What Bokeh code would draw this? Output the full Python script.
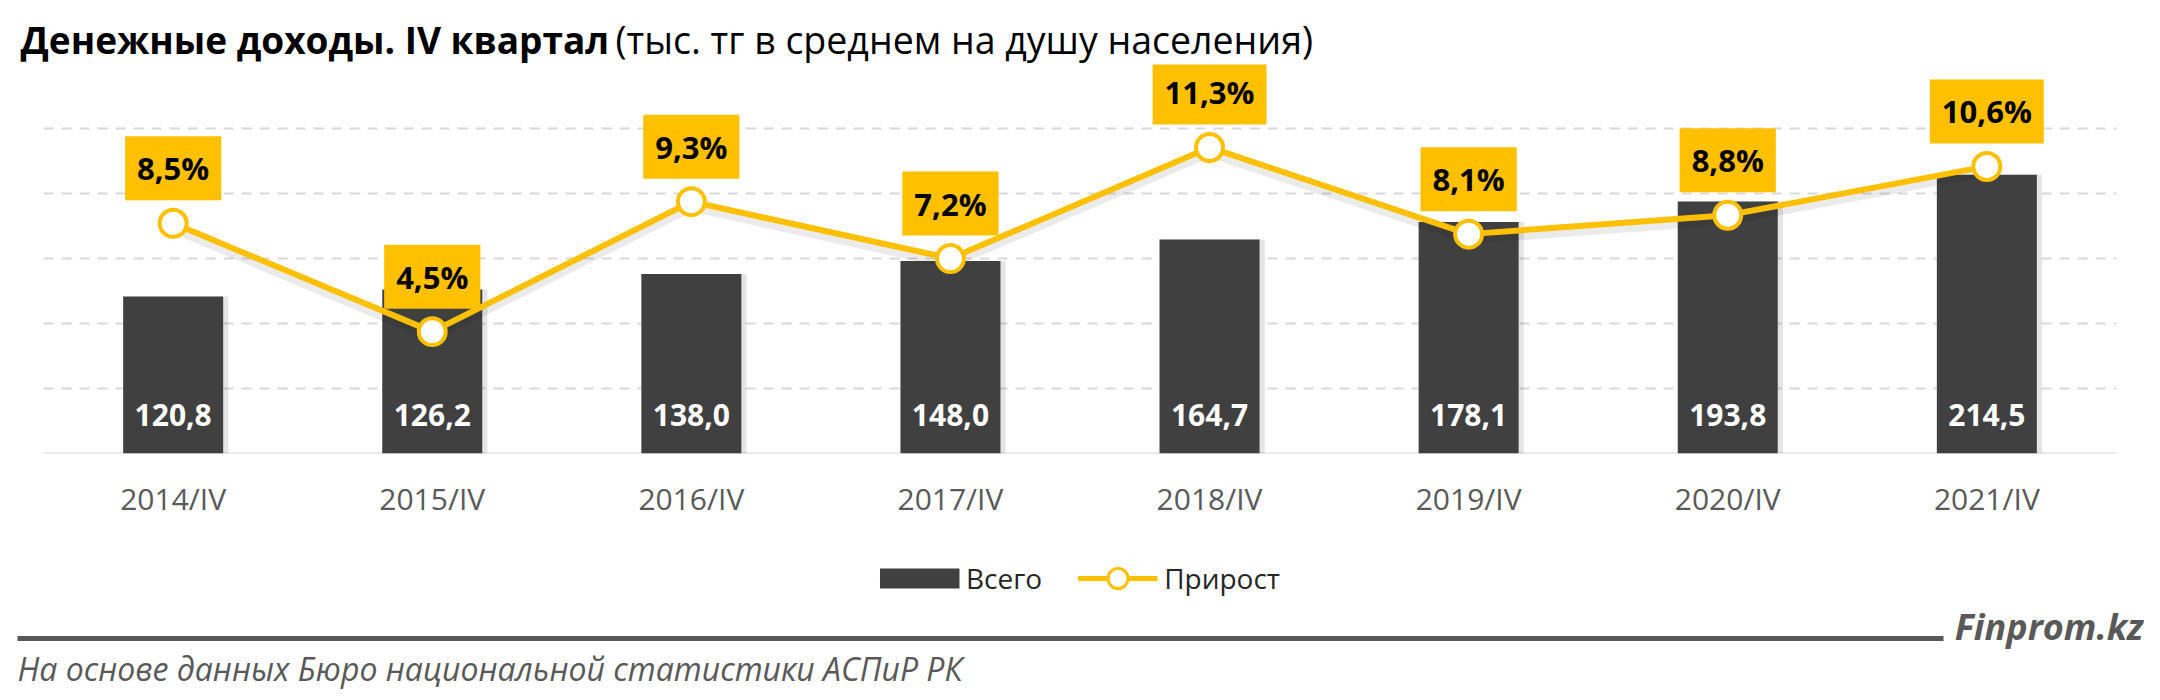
from bokeh.plotting import figure
from bokeh.layouts import column
from bokeh.models import (Range1d, FactorRange, Legend, LegendItem,
                          ColumnDataSource)
from bokeh.transform import dodge
from bokeh.core.properties import value
from bokeh.embed import file_html
from bokeh.resources import INLINE

# ---------------- data ----------------
categories = ["2014/IV", "2015/IV", "2016/IV", "2017/IV",
              "2018/IV", "2019/IV", "2020/IV", "2021/IV"]
totals = [120.8, 126.2, 138.0, 148.0, 164.7, 178.1, 193.8, 214.5]
growth = [8.5, 4.5, 9.3, 7.2, 11.3, 8.1, 8.8, 10.6]
y_grid_ticks = [50, 100, 150, 200, 250]

TITLE_BOLD = "Денежные доходы. IV квартал"
TITLE_NORMAL = "(тыс. тг в среднем на душу населения)"
LEGEND_BARS = "Всего"
LEGEND_LINE = "Прирост"
BRAND = "Finprom.kz"
SOURCE = "На основе данных Бюро национальной статистики АСПиР РК"

total_labels = [f"{v:.1f}".replace(".", ",") for v in totals]
growth_labels = [f"{v:.1f}".replace(".", ",") + "%" for v in growth]

# ---------------- style ----------------
FONT = "Open Sans"
BAR_COLOR = "#404040"
GOLD = "#FFC000"
GREY_TXT = "#595959"
GRID = "#D9D9D9"

W = 2144
BL, BR = 15, 0                     # shared left / right borders
TITLE_H, MAIN_H, FOOT_H = 64, 476, 150
FRAME_H = 389
Y_MAX = FRAME_H / 1.3              # 1.3 px per unit, 0..250 over 325 px
PCT_MAX = Y_MAX * 12 / 250         # secondary axis: 0..12 % on the same span


def blank_fig(h):
    f = figure(width=W, height=h, x_range=Range1d(BL, W - BR),
               y_range=Range1d(h, 0),
               output_backend="svg", toolbar_location=None,
               x_axis_location=None, y_axis_location=None,
               min_border_left=BL, min_border_right=BR,
               min_border_top=0, min_border_bottom=0,
               outline_line_color=None,
               background_fill_color="white", border_fill_color="white")
    f.grid.visible = False
    return f


# ---------------- title ----------------
pt = blank_fig(TITLE_H)
pt.text(x=[20], y=[39], text=[TITLE_BOLD], text_baseline="middle",
        text_font=value(FONT), text_font_style="bold", text_font_size="37px",
        text_color="black")
pt.text(x=[615], y=[39], text=[TITLE_NORMAL], text_baseline="middle",
        text_font=value(FONT), text_font_style="normal",
        text_font_size="37.5px", text_color="black")

# ---------------- main chart ----------------
p = figure(x_range=FactorRange(*categories, range_padding=0.1085,
                               range_padding_units="absolute"),
           y_range=Range1d(0, Y_MAX),
           width=W, height=MAIN_H, output_backend="svg", toolbar_location=None,
           y_axis_location=None,
           min_border_left=BL, min_border_right=BR,
           min_border_top=0, min_border_bottom=MAIN_H - FRAME_H,
           outline_line_color=None, background_fill_color="white",
           border_fill_color="white")
p.extra_y_ranges = {"pct": Range1d(0, PCT_MAX)}
p.xgrid.visible = False
p.ygrid.visible = False

n_cat = len(categories)
# dashed value gridlines spanning the category band, plus the solid baseline
p.segment(x0=[0] * len(y_grid_ticks), x1=[n_cat] * len(y_grid_ticks),
          y0=y_grid_ticks, y1=y_grid_ticks, line_color=GRID, line_width=2,
          line_dash="10 8")
p.segment(x0=[0], x1=[n_cat], y0=[0], y1=[0], line_color=GRID, line_width=2)

ax = p.xaxis[0]
ax.axis_line_color = None
ax.major_tick_line_color = None
ax.minor_tick_line_color = None
ax.major_tick_out = 0
ax.major_tick_in = 0
ax.major_label_standoff = 24
ax.major_label_text_font = FONT
ax.major_label_text_font_size = "30px"
ax.major_label_text_color = GREY_TXT

src = ColumnDataSource(dict(cat=categories, total=totals, growth=growth,
                            tl=total_labels, gl=growth_labels))

# soft shadows (Excel-like)
p.vbar(x=dodge("cat", 0.02, range=p.x_range), top="total", width=0.386,
       source=src, fill_color="black", fill_alpha=0.10, line_color=None)
p.vbar(x="cat", top="total", width=0.386, source=src,
       fill_color=BAR_COLOR, line_color=None)
p.text(x="cat", y=0, text="tl", source=src, text_align="center",
       text_baseline="middle", y_offset=-39, text_color="white",
       text_font=value(FONT), text_font_style="bold", text_font_size="30px")

p.line(x="cat", y=dodge("growth", -0.2), source=src, y_range_name="pct",
       line_color="black", line_alpha=0.08, line_width=9)
p.line(x="cat", y="growth", source=src, y_range_name="pct",
       line_color=GOLD, line_width=6)
p.scatter(x="cat", y="growth", source=src, y_range_name="pct",
          size=27, fill_color="white", line_color=GOLD, line_width=4)
p.text(x="cat", y="growth", text="gl", source=src, y_range_name="pct",
       text_align="center", text_baseline="middle", y_offset=-55,
       text_color="black", text_font=value(FONT), text_font_style="bold",
       text_font_size="31px", background_fill_color=GOLD,
       padding=dict(left=12, right=12, top=11, bottom=11))

# ---------------- footer (legend + source) ----------------
pf = blank_fig(FOOT_H)
nan = float("nan")
proxy = ColumnDataSource(dict(x=[nan], y=[nan]))
sw_bar = pf.line(x="x", y="y", source=proxy, line_color=BAR_COLOR,
                 line_width=20)
sw_line = pf.line(x="x", y="y", source=proxy, line_color=GOLD, line_width=5)
sw_pt = pf.scatter(x="x", y="y", source=proxy, fill_color="white",
                   line_color=GOLD, line_width=3)
leg = Legend(items=[LegendItem(label=LEGEND_BARS, renderers=[sw_bar]),
                    LegendItem(label=LEGEND_LINE, renderers=[sw_line, sw_pt])],
             location="top_center", orientation="horizontal",
             glyph_width=80, glyph_height=50, padding=0, margin=13,
             spacing=35, label_standoff=7, border_line_color=None,
             background_fill_alpha=0, label_text_font=FONT,
             label_text_font_size="28px", label_text_color="#262626")
pf.add_layout(leg, "center")

pf.segment(x0=[17], y0=[98], x1=[1943], y1=[98], line_color=GREY_TXT,
           line_width=5)
pf.text(x=[2143], y=[86], text=[BRAND], text_align="right",
        text_baseline="middle", text_font=value(FONT),
        text_font_style="bold italic", text_font_size="36px",
        text_color=GREY_TXT)
pf.text(x=[17], y=[128], text=[SOURCE], text_align="left",
        text_baseline="middle", text_font=value(FONT),
        text_font_style="italic", text_font_size="32px",
        text_color=GREY_TXT)

layout = column(pt, p, pf, spacing=0)
open("out.html", "w").write(file_html(layout, INLINE))
